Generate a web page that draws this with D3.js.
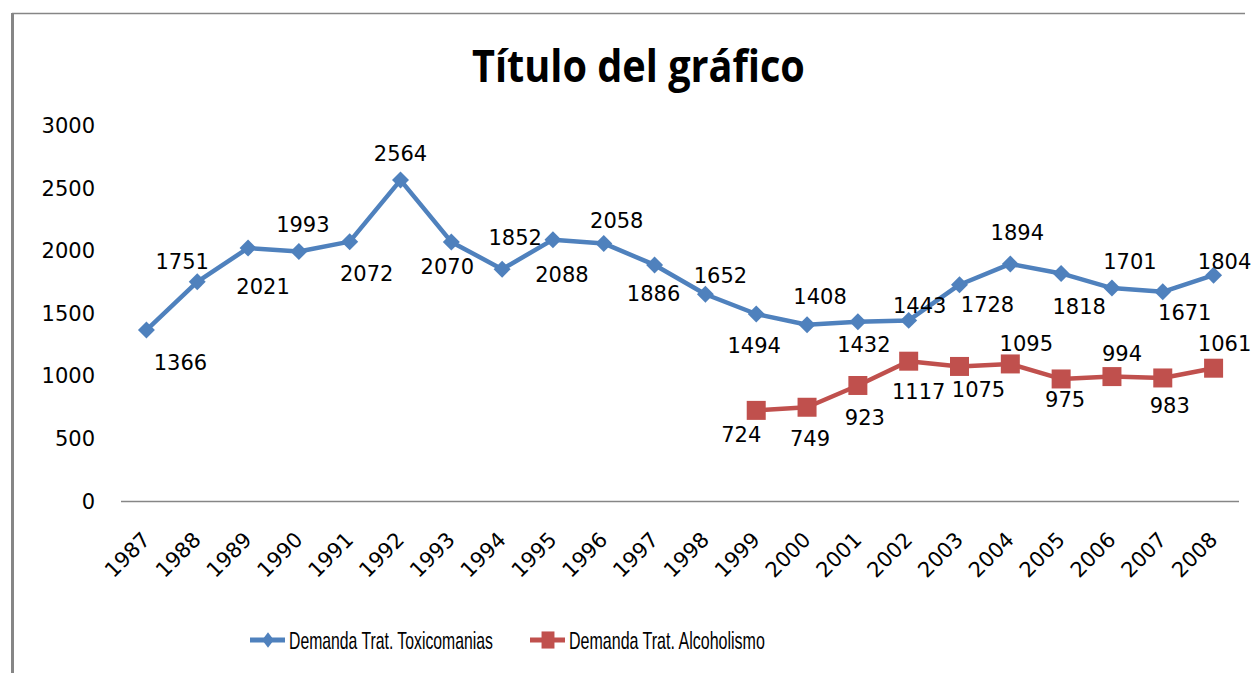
<!DOCTYPE html>
<html>
<head>
<meta charset="utf-8">
<script src="https://cdn.jsdelivr.net/npm/d3@7"></script>
<style>
  body { margin: 0; background: #fff; }
</style>
</head>
<body>
<script>
// datos
let years = ['1987','1988','1989','1990','1991','1992','1993','1994','1995','1996','1997',
             '1998','1999','2000','2001','2002','2003','2004','2005','2006','2007','2008']
let toxicomanias = [1366,1751,2021,1993,2072,2564,2070,1852,2088,2058,1886,
                    1652,1494,1408,1432,1443,1728,1894,1818,1701,1671,1804]
let alcoholYears = ['1999','2000','2001','2002','2003','2004','2005','2006','2007','2008']
let alcoholismo = [724,749,923,1117,1075,1095,975,994,983,1061]
let yTicks = [0,500,1000,1500,2000,2500,3000]
let seriesNames = ['Demanda Trat. Toxicomanias','Demanda Trat. Alcoholismo']

// where each data label sits relative to its point [dx, dy]
let toxLabelPos = [[34,32],[-15,-20],[15,38],[4,-27],[17,32],[0,-27],[-4,25],[13,-32],[9,35],[13,-23],[-1,29],
                   [15,-19],[-2,31],[13,-28],[6,23],[11,-15],[28,20],[7,-31],[18,33],[18,-27],[22,21],[11,-14]]
let alcLabelPos = [[-15,24],[3,31],[7,32],[10,30],[19,23],[16,-21],[4,20],[10,-23],[7,27],[11,-25]]

let blue = '#4f81bd'
let red = '#c0504d'
let font = 'DejaVu Sans'

let svg = d3.select('body')
  .append('svg')
  .attr('width', 1254)
  .attr('height', 673)

// squeeze a text horizontally to a given width
let fitText = (sel, px, py, w) => {
  let natural = sel.node().getComputedTextLength()
  sel.attr('transform', `translate(${px},${py}) scale(${w / natural},1)`)
}

// chart border (only top & left show in the picture)
svg.append('line').attr('x1', 12).attr('y1', 13.5).attr('x2', 1245).attr('y2', 13.5)
  .attr('stroke', '#868686').attr('stroke-width', 1.5)
svg.append('line').attr('x1', 12.5).attr('y1', 13).attr('x2', 12.5).attr('y2', 673)
  .attr('stroke', '#868686').attr('stroke-width', 3)

let title = svg.append('text')
  .style('font-family', 'Open Sans').style('font-weight', 'bold').style('font-size', '44px')
  .text('Título del gráfico')
fitText(title, 472, 82, 333)

let x = d3.scalePoint().domain(years).range([121, 1239]).padding(0.5)
let y = d3.scaleLinear().domain([0, 3000]).range([501, 125.5])

// y labels
svg.selectAll('.ytick')
  .data(yTicks)
  .enter().append('text')
  .attr('x', 95).attr('y', d => y(d)).attr('dy', '0.36em')
  .attr('text-anchor', 'end')
  .style('font-family', font).style('font-size', '21px')
  .text(d => d)

// x axis line + rotated labels
svg.append('line').attr('x1', 121).attr('x2', 1239).attr('y1', y(0) + 0.5).attr('y2', y(0) + 0.5)
  .attr('stroke', '#868686').attr('stroke-width', 1.5)

svg.selectAll('.xtick')
  .data(years)
  .enter().append('text')
  .attr('transform', d => `translate(${x(d) + 5},541) rotate(-45)`)
  .attr('text-anchor', 'end')
  .style('font-family', font).style('font-size', '21px')
  .text(d => d)

let line = d3.line().x(d => x(d[0])).y(d => y(d[1]))
let diamond = d3.symbol(d3.symbolSquare, 144)
let square = d3.symbol(d3.symbolSquare, 361)

let drawSeries = (cats, vals, pos, color, shape, rot) => {
  let pts = cats.map((c, i) => [c, vals[i]])
  svg.append('path')
    .datum(pts)
    .attr('d', line)
    .attr('fill', 'none')
    .attr('stroke', color)
    .attr('stroke-width', 4.5)
    .attr('stroke-linejoin', 'round')
  svg.selectAll(null)
    .data(pts)
    .enter().append('path')
    .attr('d', shape)
    .attr('fill', color)
    .attr('transform', d => `translate(${x(d[0])},${y(d[1])}) rotate(${rot})`)
  svg.selectAll(null)
    .data(pts)
    .enter().append('text')
    .attr('x', (d, i) => x(d[0]) + pos[i][0])
    .attr('y', (d, i) => y(d[1]) + pos[i][1])
    .attr('dy', '0.36em')
    .attr('text-anchor', 'middle')
    .style('font-family', font).style('font-size', '21px')
    .text(d => d[1])
}

drawSeries(years, toxicomanias, toxLabelPos, blue, diamond, 45)
drawSeries(alcoholYears, alcoholismo, alcLabelPos, red, square, 0)

// legend
let legend = [
  {name: seriesNames[0], color: blue, x0: 250, tx: 289, tl: 204, shape: diamond, rot: 45},
  {name: seriesNames[1], color: red, x0: 530, tx: 569, tl: 196, shape: square, rot: 0}
]
legend.forEach(l => {
  svg.append('line').attr('x1', l.x0).attr('x2', l.x0 + 35).attr('y1', 640).attr('y2', 640)
    .attr('stroke', l.color).attr('stroke-width', 5)
  svg.append('path').attr('d', l.shape).attr('fill', l.color)
    .attr('transform', `translate(${l.x0 + 18},640) scale(0.68,0.9) rotate(${l.rot})`)
  let t = svg.append('text')
    .attr('dy', '0.36em')
    .style('font-family', 'Liberation Sans Narrow, Liberation Sans').style('font-size', '24px')
    .text(l.name)
  fitText(t, l.tx, 640, l.tl)
})
</script>
</body>
</html>
